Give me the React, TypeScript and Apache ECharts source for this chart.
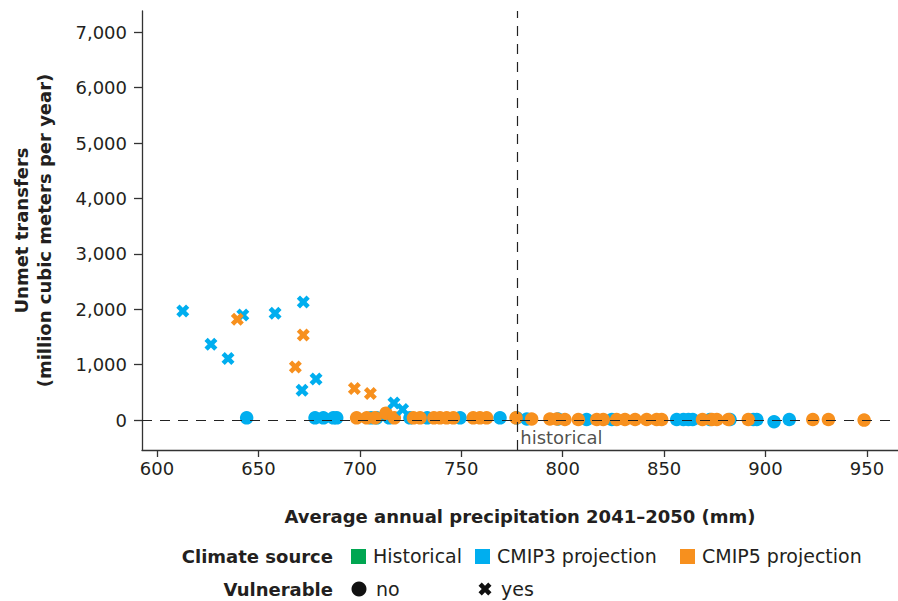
import React, { useEffect, useRef } from "react";
import * as echarts from "echarts";

// ---------- data ----------
const X_TICKS = [600, 650, 700, 750, 800, 850, 900, 950];
const Y_TICKS = [0, 1000, 2000, 3000, 4000, 5000, 6000, 7000];
const HISTORICAL_PRECIP = 777.6;

// [precipitation mm, unmet transfers]
const CMIP3_NO: [number, number][] = [
  [644.2, 40], [677.9, 40], [682.0, 40], [686.9, 40], [688.6, 40], [705.5, 40],
  [708.3, 40], [714.5, 40], [724.7, 40], [733.2, 40], [749.4, 40], [769.1, 40],
  [777.3, 40], [782.3, 20], [797.7, 20], [811.8, 10], [824.2, 10], [856.2, 10],
  [859.5, 10], [862.0, 10], [864.1, 10], [872.6, 10], [882.5, 10], [894.0, 10],
  [895.7, 10], [904.2, -30], [911.7, 10],
];
const CMIP3_YES: [number, number][] = [
  [612.7, 1970], [626.6, 1370], [635.0, 1110], [642.3, 1895], [658.2, 1930],
  [672.1, 2130], [671.5, 540], [678.4, 740], [716.8, 310], [721.1, 190],
];
const CMIP5_NO: [number, number][] = [
  [698.4, 40], [703.4, 40], [707.5, 40], [712.9, 125], [717.0, 40], [726.4, 40],
  [729.7, 40], [736.5, 40], [739.5, 40], [742.8, 40], [746.1, 40], [755.9, 40],
  [759.2, 40], [762.5, 40], [777.0, 40], [784.7, 20], [793.7, 20], [797.1, 20],
  [801.1, 10], [807.7, 10], [816.8, 10], [820.0, 10], [826.6, 10], [830.7, 10],
  [835.7, 10], [841.4, 10], [846.3, 10], [848.8, 10], [868.9, 10], [873.5, 10],
  [876.0, 10], [881.7, 10], [891.5, 10], [923.3, 10], [931.0, 10], [948.6, 0],
];
const CMIP5_YES: [number, number][] = [
  [639.6, 1820], [672.1, 1535], [668.2, 960], [697.3, 570], [705.2, 480],
];

const CLIMATE_SOURCES = ["Historical", "CMIP3 projection", "CMIP5 projection"];
const VULNERABLE_LABELS = ["no", "yes"];

// ---------- style ----------
const FONT = "DejaVu Sans";
const TEXT = "#231f20";
const AXIS = "#333333";
const C_HIST = "#00a651";
const C3 = "#00aeef";
const C5 = "#f7901e";
const SOURCE_COLORS = [C_HIST, C3, C5];
const CROSS_PTS = [
  [0, 2.5], [2.5, 0], [5, 2.5], [7.5, 0], [10, 2.5], [7.5, 5],
  [10, 7.5], [7.5, 10], [5, 7.5], [2.5, 10], [0, 7.5], [2.5, 5],
];
const CROSS_PATH =
  "path://" + CROSS_PTS.map((p, i) => (i ? "L" : "M") + p[0] + "," + p[1]).join("") + "Z";

function crossPolygon(cx: number, cy: number, size: number) {
  const s = size / 10;
  return CROSS_PTS.map((p) => [cx - size / 2 + p[0] * s, cy - size / 2 + p[1] * s]);
}

export default function App() {
  const ref = useRef<HTMLDivElement>(null);

  useEffect(() => {
    if (!ref.current) return;
    const chart = echarts.init(ref.current, undefined, { renderer: "svg" });

    const sqX = [351, 475, 680];
    const txX = [373, 497, 702];
    const legendGraphics: any[] = [
      {
        type: "text", x: 333, y: 556,
        style: { text: "Climate source", font: `bold 18px '${FONT}'`, fill: TEXT, textAlign: "right", textVerticalAlign: "middle" },
      },
      ...CLIMATE_SOURCES.flatMap((s, i) => [
        { type: "rect", shape: { x: sqX[i], y: 549, width: 15, height: 15 }, style: { fill: SOURCE_COLORS[i] } },
        { type: "text", x: txX[i], y: 556, style: { text: s, font: `19px '${FONT}'`, fill: TEXT, textVerticalAlign: "middle" } },
      ]),
      {
        type: "text", x: 333, y: 589,
        style: { text: "Vulnerable", font: `bold 18px '${FONT}'`, fill: TEXT, textAlign: "right", textVerticalAlign: "middle" },
      },
      { type: "circle", shape: { cx: 359, cy: 589, r: 7.5 }, style: { fill: "#111" } },
      { type: "text", x: 376, y: 589, style: { text: VULNERABLE_LABELS[0], font: `19px '${FONT}'`, fill: TEXT, textVerticalAlign: "middle" } },
      { type: "polygon", shape: { points: crossPolygon(485, 589, 13) }, style: { fill: "#111" } },
      { type: "text", x: 501, y: 589, style: { text: VULNERABLE_LABELS[1], font: `19px '${FONT}'`, fill: TEXT, textVerticalAlign: "middle" } },
    ];

    const scatter = (name: string, data: [number, number][], color: string, cross: boolean, z: number) => ({
      name,
      type: "scatter",
      data,
      symbol: cross ? CROSS_PATH : "circle",
      symbolSize: cross ? 13 : 13.5,
      itemStyle: { color, opacity: 1 },
      z,
      silent: true,
    });

    chart.setOption({
      animation: false,
      backgroundColor: "#ffffff",
      textStyle: { fontFamily: FONT },
      grid: { left: 142, right: 0, top: 11, bottom: 151, containLabel: false },
      xAxis: {
        type: "value",
        min: 592.6,
        max: 965.3,
        name: "Average annual precipitation 2041–2050 (mm)",
        nameLocation: "middle",
        nameGap: 57,
        nameTextStyle: { fontFamily: FONT, fontWeight: "bold", fontSize: 18, color: TEXT },
        axisLine: { show: true, onZero: false, lineStyle: { color: AXIS, width: 1.3 } },
        axisTick: { show: true, length: 7, customValues: X_TICKS, lineStyle: { color: AXIS, width: 1.3 } },
        axisLabel: { customValues: X_TICKS, margin: 9, fontFamily: FONT, fontSize: 18, color: TEXT },
        splitLine: { show: false },
      },
      yAxis: {
        type: "value",
        min: -540,
        max: 7383,
        name: "Unmet transfers\n(million cubic meters per year)",
        nameLocation: "middle",
        nameGap: 86,
        nameTextStyle: { fontFamily: FONT, fontWeight: "bold", fontSize: 18, lineHeight: 23, color: TEXT },
        axisLine: { show: true, onZero: false, lineStyle: { color: AXIS, width: 1.3 } },
        axisTick: { show: true, length: 8, customValues: Y_TICKS, lineStyle: { color: AXIS, width: 1.3 } },
        axisLabel: {
          customValues: Y_TICKS,
          margin: 15,
          fontFamily: FONT,
          fontSize: 18,
          color: TEXT,
          formatter: (v: number) => v.toLocaleString("en-US"),
        },
        splitLine: { show: false },
      },
      series: [
        scatter("CMIP3 no", CMIP3_NO, C3, false, 2),
        scatter("CMIP5 no", CMIP5_NO, C5, false, 3),
        scatter("CMIP3 yes", CMIP3_YES, C3, true, 4),
        scatter("CMIP5 yes", CMIP5_YES, C5, true, 5),
        {
          name: "refs",
          type: "line",
          data: [],
          z: 10,
          silent: true,
          markLine: {
            silent: true,
            symbol: "none",
            label: { show: false },
            lineStyle: { type: [10, 8], color: "#222", width: 1.2 },
            data: [{ yAxis: 0 }, { xAxis: HISTORICAL_PRECIP }],
          },
        },
        {
          name: "historical label",
          type: "scatter",
          data: [[HISTORICAL_PRECIP, 0]],
          symbolSize: 0,
          z: 11,
          silent: true,
          label: {
            show: true,
            position: "right",
            distance: 0,
            offset: [3, 17],
            formatter: "historical",
            fontFamily: FONT,
            fontSize: 18,
            color: TEXT,
          },
        },
      ],
      graphic: legendGraphics,
    });

    return () => chart.dispose();
  }, []);

  return (
    <div
      ref={ref}
      style={{ position: "absolute", left: 0, top: 0, width: 898, height: 601, background: "#fff" }}
    />
  );
}
